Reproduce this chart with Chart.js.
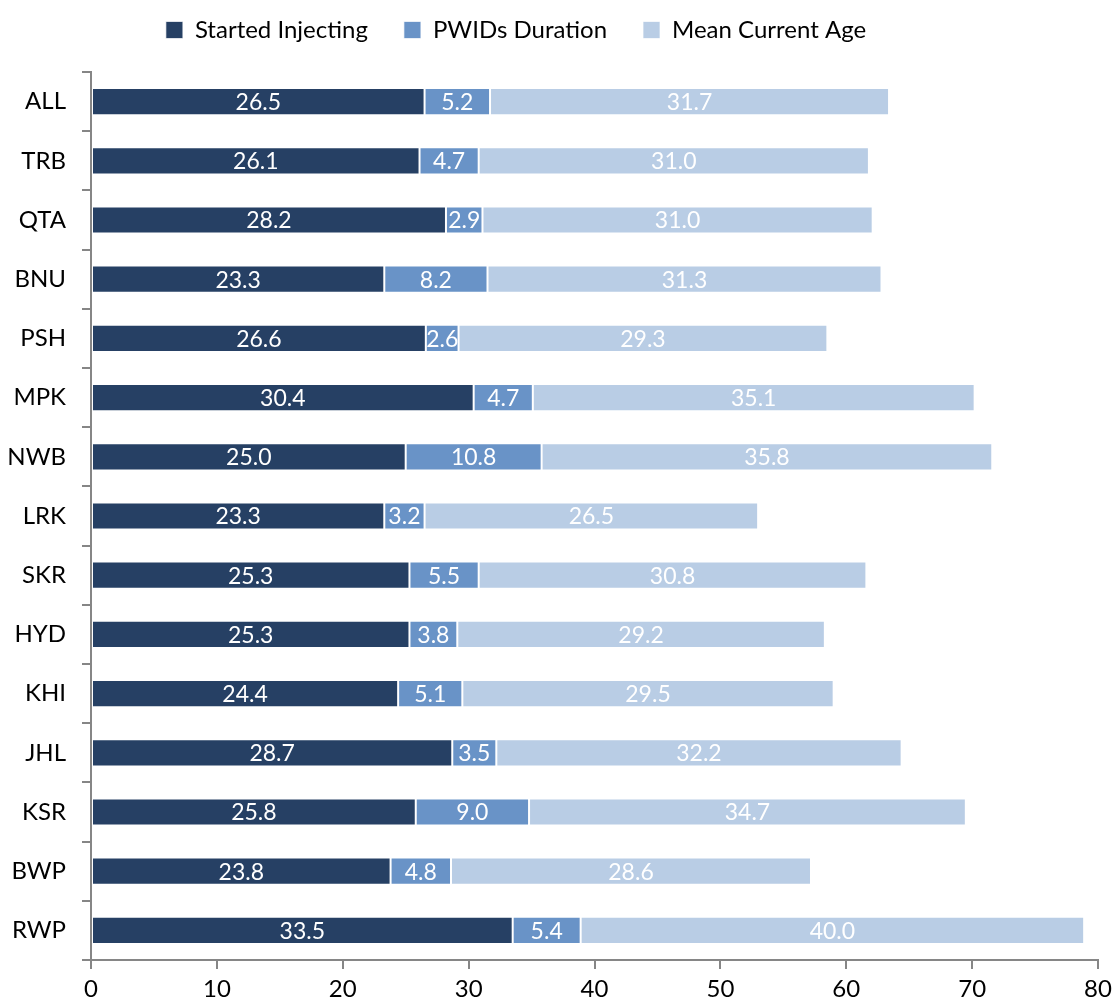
<!DOCTYPE html>
<html>
<head>
<meta charset="utf-8">
<script src="https://cdn.jsdelivr.net/npm/chart.js@4.4.1/dist/chart.umd.min.js"></script>
<style>
  html, body { margin: 0; padding: 0; background: #fff; }
  #wrap { width: 1114px; height: 1006px; }
</style>
</head>
<body>
<div id="wrap"><canvas id="chart"></canvas></div>
<script>
// カテゴリと系列データ
const sites = ['ALL', 'TRB', 'QTA', 'BNU', 'PSH', 'MPK', 'NWB', 'LRK', 'SKR', 'HYD', 'KHI', 'JHL', 'KSR', 'BWP', 'RWP'];
const startedInjecting = [26.5, 26.1, 28.2, 23.3, 26.6, 30.4, 25.0, 23.3, 25.3, 25.3, 24.4, 28.7, 25.8, 23.8, 33.5];
const pwidsDuration = [5.2, 4.7, 2.9, 8.2, 2.6, 4.7, 10.8, 3.2, 5.5, 3.8, 5.1, 3.5, 9.0, 4.8, 5.4];
const meanCurrentAge = [31.7, 31.0, 31.0, 31.3, 29.3, 35.1, 35.8, 26.5, 30.8, 29.2, 29.5, 32.2, 34.7, 28.6, 40.0];
const xTicks = [0, 10, 20, 30, 40, 50, 60, 70, 80];

const fontFamily = "Lato, 'Open Sans', sans-serif";
const axisColor = '#868686';

// バー中央に値を描くプラグイン
const valueLabels = {
    id: 'valueLabels',
    afterDatasetsDraw(chart) {
        const ctx = chart.ctx;
        ctx.save();
        ctx.fillStyle = '#ffffff';
        ctx.font = `23px ${fontFamily}`;
        ctx.textAlign = 'center';
        ctx.textBaseline = 'middle';
        chart.data.datasets.forEach((ds, i) => {
            chart.getDatasetMeta(i).data.forEach((bar, j) => {
                const cx = (bar.x + bar.base) / 2;
                ctx.fillText(ds.data[j].toFixed(1), cx, bar.y + 1);
            });
        });
        ctx.restore();
    }
};

// 凡例の高さと位置の調整
const legendTweak = {
    id: 'legendTweak',
    beforeLayout(chart) {
        const lg = chart.legend;
        if (lg && !lg._fitWrapped) {
            const fit = lg.fit.bind(lg);
            lg.fit = function () { fit(); this.height = 66; };
            lg._fitWrapped = true;
        }
    },
    afterLayout(chart) {
        const lg = chart.legend;
        lg.top -= 24; lg.bottom -= 24;
        lg.left -= 33; lg.right -= 33;
    }
};

new Chart(document.getElementById('chart').getContext('2d'), {
    type: 'bar',
    data: {
        labels: sites,
        datasets: [
            { label: 'Started Injecting', data: startedInjecting, backgroundColor: '#264064' },
            { label: 'PWIDs Duration', data: pwidsDuration, backgroundColor: '#6993C7' },
            { label: 'Mean Current Age', data: meanCurrentAge, backgroundColor: '#B9CDE5' }
        ].map(ds => Object.assign(ds, {
            borderColor: 'rgba(255,255,255,0.7)',
            borderWidth: 1,
            borderSkipped: false,
            barPercentage: 0.46,
            categoryPercentage: 1.0
        }))
    },
    options: {
        indexAxis: 'y',
        responsive: true,
        maintainAspectRatio: false,
        animation: false,
        layout: { autoPadding: false, padding: { left: 0, right: 16, top: 6, bottom: 0 } },
        plugins: {
            tooltip: { enabled: false },
            legend: {
                position: 'top',
                labels: {
                    color: '#000',
                    font: { family: fontFamily, size: 24 },
                    boxWidth: 17,
                    boxHeight: 17,
                    padding: 36
                }
            }
        },
        scales: {
            x: {
                stacked: true,
                min: 0,
                max: 80,
                afterBuildTicks: axis => { axis.ticks = xTicks.map(v => ({ value: v })); },
                afterFit: axis => {
                    axis.height = 46;
                    axis.paddingLeft = 0;
                    axis.paddingRight = 0;
                },
                ticks: { color: '#000', font: { family: fontFamily, size: 24 }, padding: 6, maxRotation: 0 },
                grid: { drawOnChartArea: false, color: axisColor, tickLength: 9, lineWidth: 2 },
                border: { color: axisColor, width: 2 }
            },
            y: {
                stacked: true,
                afterFit: axis => { axis.width = 91; },
                ticks: { color: '#000', font: { family: fontFamily, size: 24 }, padding: 16 },
                grid: { offset: true, drawOnChartArea: false, color: axisColor, tickLength: 9, lineWidth: 2 },
                border: { color: axisColor, width: 2 }
            }
        }
    },
    plugins: [valueLabels, legendTweak]
});
</script>
</body>
</html>
